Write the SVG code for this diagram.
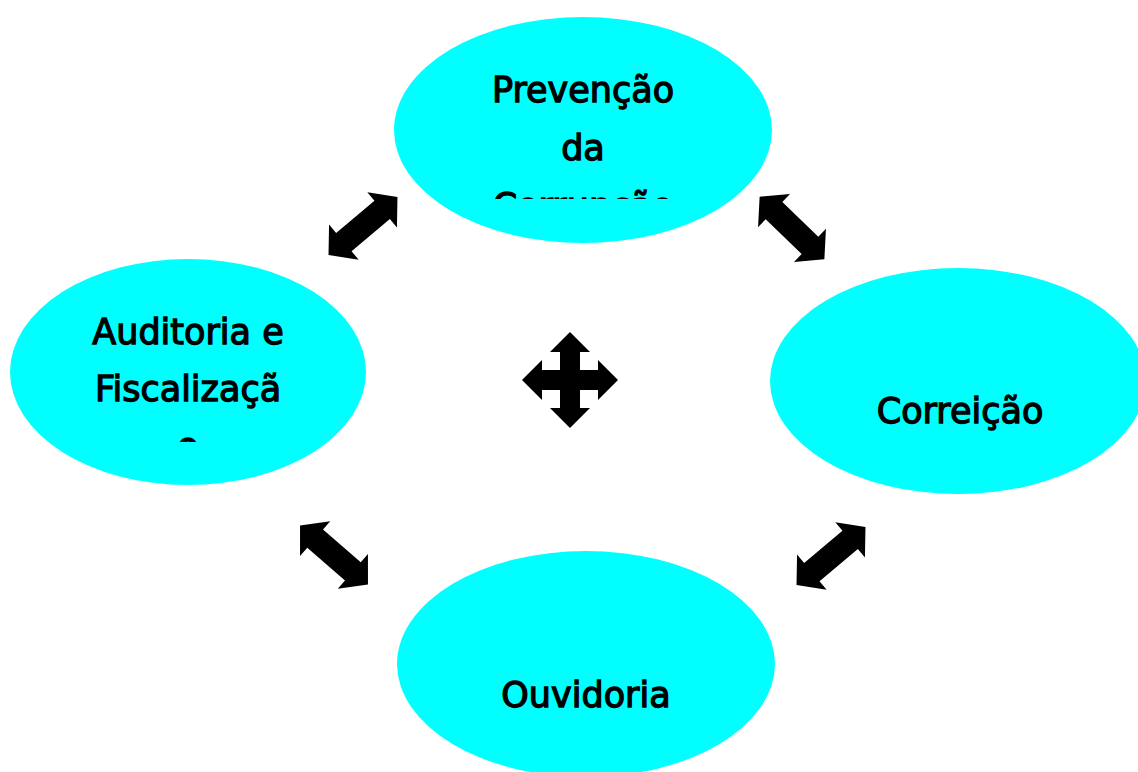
<svg xmlns="http://www.w3.org/2000/svg" width="1138" height="772" viewBox="0 0 1138 772">
<style>
.node{fill:#00FFFF;stroke:none}
.lbl{font-family:"DejaVu Sans",Verdana,sans-serif;font-size:35px;fill:#000;stroke:#000;stroke-width:1.3;text-anchor:middle}
.arr{fill:#000;stroke:none}
</style>
<defs>
<path id="dbl" d="M -45,0 L -25,-23 L -25,-12 L 25,-12 L 25,-23 L 45,0 L 25,23 L 25,12 L -25,12 L -25,23 Z"/>
<clipPath id="clipTop"><rect x="394" y="17" width="380" height="182"/></clipPath>
<clipPath id="clipLeft"><rect x="10" y="259" width="358" height="183"/></clipPath>
</defs>
<rect width="1138" height="772" fill="#fff"/>
<g id="prevencao">
<ellipse class="node" cx="583" cy="130" rx="189" ry="113"/>
<g clip-path="url(#clipTop)">
<text class="lbl" x="583" y="102">Prevenção</text>
<text class="lbl" x="583" y="160">da</text>
<text class="lbl" x="583" y="218">Corrupção</text>
</g>
</g>
<g id="auditoria">
<ellipse class="node" cx="188" cy="372" rx="178" ry="113"/>
<g clip-path="url(#clipLeft)">
<text class="lbl" x="188" y="344">Auditoria e</text>
<text class="lbl" x="188" y="401">Fiscalizaçã</text>
<text class="lbl" x="188" y="458">o</text>
</g>
</g>
<g id="correicao">
<ellipse class="node" cx="958" cy="381" rx="188" ry="113"/>
<text class="lbl" x="960" y="423">Correição</text>
</g>
<g id="ouvidoria">
<ellipse class="node" cx="586" cy="664" rx="189" ry="113"/>
<text class="lbl" x="586" y="707">Ouvidoria</text>
</g>
<g id="connectors">
<use href="#dbl" class="arr" transform="translate(363,226) rotate(-40)"/>
<use href="#dbl" class="arr" transform="translate(792,228) rotate(44)"/>
<use href="#dbl" class="arr" transform="translate(334,555) rotate(41)"/>
<use href="#dbl" class="arr" transform="translate(831,556) rotate(-40)"/>
<path class="arr" transform="translate(570,380)" d="M -48,0 L -28,-20 L -28,-10 L -10,-10 L -10,-28 L -20,-28 L 0,-48 L 20,-28 L 10,-28 L 10,-10 L 28,-10 L 28,-20 L 48,0 L 28,20 L 28,10 L 10,10 L 10,28 L 20,28 L 0,48 L -20,28 L -10,28 L -10,10 L -28,10 L -28,20 Z"/>
</g>
</svg>
